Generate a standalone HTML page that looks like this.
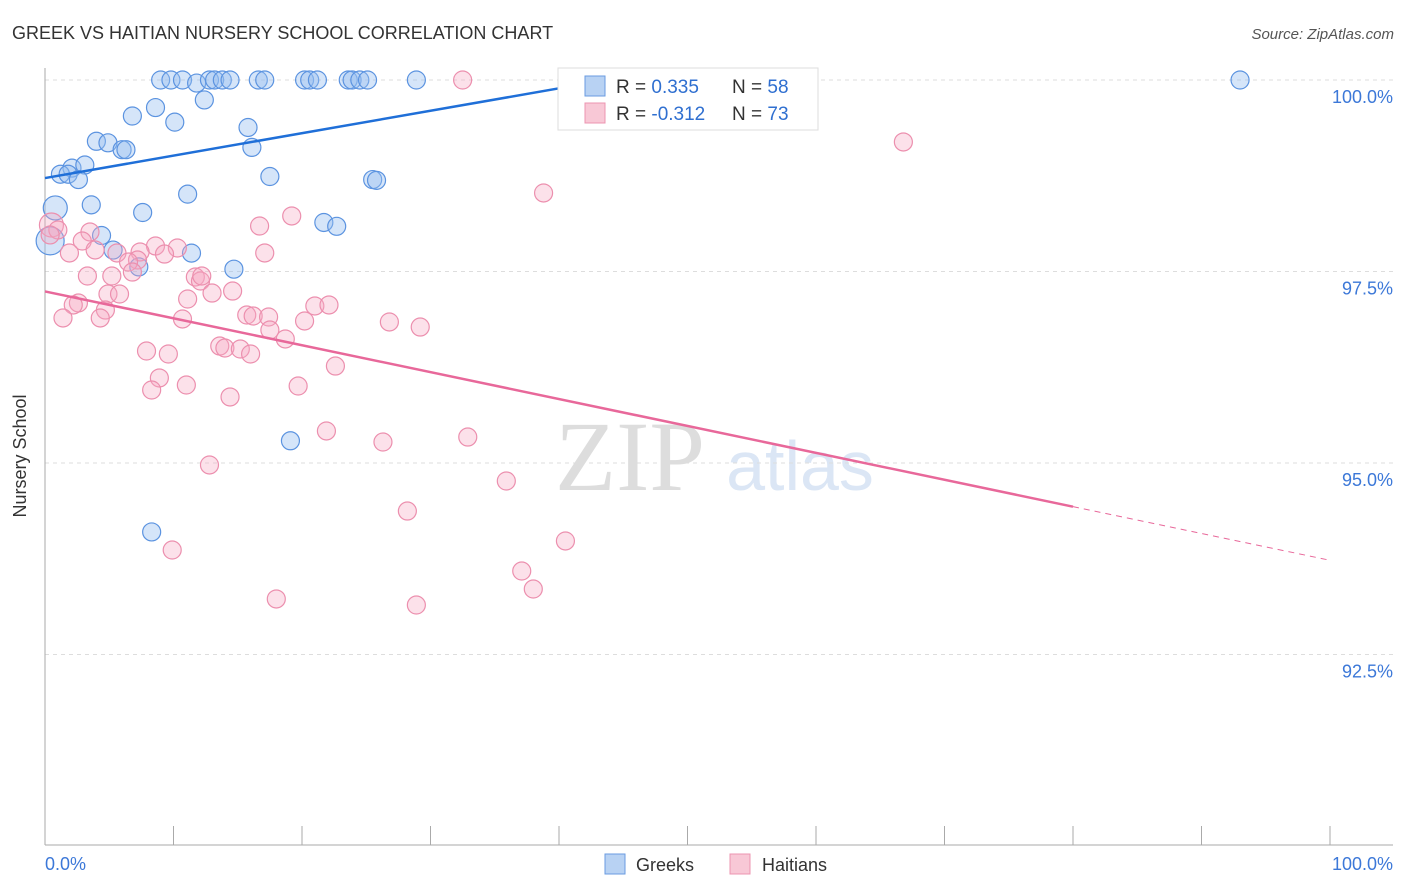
<!DOCTYPE html>
<html><head><meta charset="utf-8"><style>
body{margin:0;background:#fff;font-family:"Liberation Sans",sans-serif}
svg{display:block}
</style></head><body>
<svg id="chart" width="1406" height="892">
<text x="12" y="39" font-size="18" fill="#333">GREEK VS HAITIAN NURSERY SCHOOL CORRELATION CHART</text>
<text x="1394" y="39" font-size="15" fill="#555" font-style="italic" text-anchor="end">Source: ZipAtlas.com</text>
<text x="26" y="456" font-size="18" fill="#333" text-anchor="middle" transform="rotate(-90 26 456)">Nursery School</text>
<text x="630" y="490" font-size="100" fill="#ddd" font-family="Liberation Serif" text-anchor="middle">ZIP</text>
<text x="800" y="490" font-size="70" fill="#dbe6f5" text-anchor="middle">atlas</text>
<g id="grid"></g><g id="pts"></g><g id="lines"></g>
<g>
<rect x="558" y="68" width="260" height="62" fill="#fff" stroke="#ddd"/>
<rect x="585" y="76" width="20" height="20" fill="#b8d2f3" stroke="#6a9be0"/>
<rect x="585" y="103" width="20" height="20" fill="#f8c8d6" stroke="#ec94b0"/>
<text x="616" y="93" font-size="19" fill="#333">R = <tspan fill="#2f6fd0">0.335</tspan></text>
<text x="732" y="93" font-size="19" fill="#333">N = <tspan fill="#2f6fd0">58</tspan></text>
<text x="616" y="120" font-size="19" fill="#333">R = <tspan fill="#2f6fd0">-0.312</tspan></text>
<text x="732" y="120" font-size="19" fill="#333">N = <tspan fill="#2f6fd0">73</tspan></text>
</g>
<g>
<rect x="605" y="854" width="20" height="20" fill="#b8d2f3" stroke="#6a9be0"/>
<text x="636" y="871" font-size="18" fill="#333">Greeks</text>
<rect x="730" y="854" width="20" height="20" fill="#f8c8d6" stroke="#ec94b0"/>
<text x="762" y="871" font-size="18" fill="#333">Haitians</text>
</g>
</svg>
<script>
const yTicks=[100,97.5,95,92.5];
const yTickLabels=["100.0%","97.5%","95.0%","92.5%"];
const xTicks=[0,10,20,30,40,50,60,70,80,90,100];
const greeksX=[konv(160),konv(170),konv(182),konv(197),konv(210),konv(215),konv(222),konv(230),konv(258),konv(265),konv(305),konv(310),konv(317),konv(348),konv(352),konv(360),konv(368),konv(416),konv(570),konv(577),konv(605),konv(710),konv(770),konv(1240),konv(205),konv(133),konv(155),konv(175),konv(248),konv(97),konv(108),konv(122),konv(126),konv(252),konv(72),konv(85),konv(60),konv(68),konv(79),konv(270),konv(373),konv(377),konv(55),konv(91),konv(143),konv(188),konv(324),konv(337),konv(102),konv(113),konv(191),konv(139),konv(234),konv(290),konv(152),konv(50)];
function konv(p){return Math.round((p-45)/1285*1000)/10;}
</script>
<script>
const W0=45,W1=1330,Y100=80,PX25=191.5;
const gx=[9.0,9.8,10.7,11.8,12.8,13.2,13.8,14.4,16.6,17.1,20.2,20.6,21.2,23.6,23.9,24.5,25.1,28.9,40.9,41.4,43.6,51.8,56.4,93.0,12.4,6.8,8.6,10.1,15.8,4.0,4.9,6.0,6.3,16.1,2.1,3.1,1.2,1.8,2.6,17.5,25.5,25.8,0.8,3.6,7.6,11.1,21.7,22.7,4.4,5.3,11.4,7.3,14.7,19.1,8.3,0.4];
const gy=[100,100,100,99.96,100,100,100,100,100,100,100,100,100,100,100,100,100,100,100,100,100,100,100,100,99.74,99.53,99.64,99.45,99.38,99.2,99.18,99.09,99.09,99.12,98.85,98.89,98.77,98.77,98.7,98.74,98.7,98.69,98.33,98.37,98.27,98.51,98.14,98.09,97.97,97.78,97.74,97.56,97.53,95.29,94.1,97.9];
const gr=[9,9,9,9,9,9,9,9,9,9,9,9,9,9,9,9,9,9,9,9,9,9,9,9,9,9,9,9,9,9,9,9,9,9,9,9,9,9,9,9,9,9,12,9,9,9,9,9,9,9,9,9,9,9,9,14];
const hpx=[463,904,543,292,260,52,58,90,82,50,70,95,117,155,177,165,140,138,128,133,87,112,108,120,195,200,202,233,212,188,265,78,73,105,100,63,182,247,253,268,270,285,315,329,305,390,420,147,168,220,225,240,250,336,160,152,186,298,230,326,383,468,209,506,408,565,172,522,533,276,416];
const hpy=[80,142,193,216,226,225,230,232,241,235,253,250,253,246,248,254,252,260,262,272,276,276,294,294,277,281,276,291,293,299,253,303,305,310,318,318,319,315,316,317,330,339,306,305,321,322,327,351,354,346,348,349,354,366,378,390,385,386,397,431,442,437,465,481,511,541,550,571,589,599,605];
const hx=hpx.map(p=>Math.round((p-45)/1285*1000)/10);
const hy=hpy.map(p=>Math.round((100-(p-80)/PX25*2.5)*1000)/1000);
const greekTrend=[0,97.35*0+98.72,42,99.95];
const haitianTrend=[0,97.24,80,94.43,100,93.73];
const sx=v=>W0+(W1-W0)*v/100, sy=v=>Y100+(100-v)/2.5*PX25;
const NS="http://www.w3.org/2000/svg";
function mk(t,a,p){const e=document.createElementNS(NS,t);for(const k in a)e.setAttribute(k,a[k]);p.appendChild(e);return e;}
const grid=document.getElementById('grid');
yTicks.forEach((t,i)=>{
 const l=mk('line',{x1:45,x2:1393,y1:sy(t),y2:sy(t),stroke:'#ddd','stroke-dasharray':'4,4'},grid);
 
 
 const tx=mk('text',{x:1393,y:sy(t)+23,'font-size':18,fill:'#3c78d8','text-anchor':'end'},grid);
 tx.textContent=yTickLabels[i];
 
 
});
const ax=mk('line',{x1:45,x2:45,y1:68,y2:845,stroke:'#aaa'},grid);


const bx=mk('line',{x1:45,x2:1393,y1:845,y2:845,stroke:'#aaa'},grid);


xTicks.forEach(t=>{
 const l=mk('line',{x1:sx(t),x2:sx(t),y1:826,y2:845,stroke:'#aaa'},grid);
 
 
});
[["0.0%",45,'start'],["100.0%",1393,'end']].forEach(d=>{
 const t=mk('text',{x:d[1],y:870,'font-size':18,fill:'#3c78d8','text-anchor':d[2]},grid);t.textContent=d[0];
 
 
});
const pts=document.getElementById('pts');
gx.forEach((x,i)=>{
 const c=mk('circle',{cx:sx(x),cy:sy(gy[i]),r:gr[i],fill:'rgba(150,190,240,0.4)',stroke:'#5b93e0','stroke-width':1.2},pts);
 
 
});
hx.forEach((x,i)=>{
 const c=mk('circle',{cx:sx(x),cy:sy(hy[i]),r:i==5?12:9,fill:'rgba(246,170,195,0.35)',stroke:'#ec8fae','stroke-width':1.2},pts);
 
 
});
const lines=document.getElementById('lines');
const b=mk('line',{x1:sx(greekTrend[0]),y1:sy(greekTrend[1]),x2:sx(greekTrend[2]),y2:sy(greekTrend[3]),stroke:'#1f6fd8','stroke-width':2.5},lines);


const p1=mk('line',{x1:sx(haitianTrend[0]),y1:sy(haitianTrend[1]),x2:sx(haitianTrend[2]),y2:sy(haitianTrend[3]),stroke:'#e8689a','stroke-width':2.5},lines);


const p2=mk('line',{x1:sx(haitianTrend[2]),y1:sy(haitianTrend[3]),x2:sx(haitianTrend[4]),y2:sy(haitianTrend[5]),stroke:'#e8689a','stroke-width':1,'stroke-dasharray':'6,5'},lines);


</script>
</body></html>
